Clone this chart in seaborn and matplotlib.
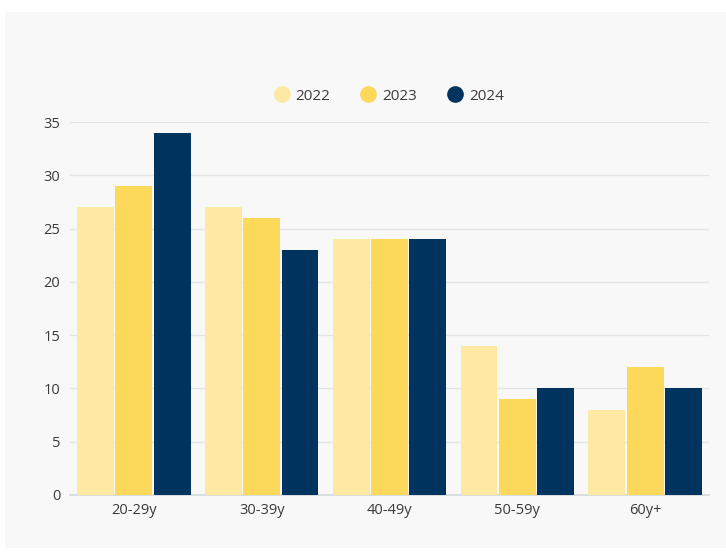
import matplotlib
matplotlib.use("Agg")
import matplotlib.pyplot as plt
from matplotlib.patches import Rectangle
from matplotlib.lines import Line2D
import seaborn as sns
import pandas as pd

age_groups = ["20-29y", "30-39y", "40-49y", "50-59y", "60y+"]
years = ["2022", "2023", "2024"]
values_2022 = [27, 27, 24, 14, 8]
values_2023 = [29, 26, 24, 9, 12]
values_2024 = [34, 23, 24, 10, 10]
y_ticks = [0, 5, 10, 15, 20, 25, 30, 35]

colors = ["#fde9a2", "#fcd95b", "#00335d"]

df = pd.DataFrame({
    "age": age_groups * 3,
    "year": [y for y in years for _ in age_groups],
    "value": values_2022 + values_2023 + values_2024,
})

sns.set_theme(style="white")
plt.rcParams["font.family"] = ["Open Sans", "DejaVu Sans"]

W, H = 726, 552
fig = plt.figure(figsize=(W / 100, H / 100), dpi=100)
fig.patch.set_facecolor("white")

# light panel behind the chart
fig.patches.append(Rectangle((5 / W, 4 / H), (W - 5) / W, (540 - 4) / H,
                             transform=fig.transFigure, facecolor="#f8f8f8",
                             edgecolor="none", zorder=-5))

ax = fig.add_axes([70 / W, 1 - 495 / H, (709 - 70) / W, (495 - 122) / H])
ax.set_facecolor("none")
ax.set_zorder(1)

sns.barplot(data=df, x="age", y="value", hue="year", palette=colors,
            width=0.9, gap=0.04, saturation=1, ax=ax, legend=False,
            edgecolor="none", zorder=3)

ax.set_ylim(0, 35)
ax.set_xlim(-0.5, 4.5)
ax.set_yticks(y_ticks)
ax.set_xlabel("")
ax.set_ylabel("")
ax.set_axisbelow(True)
ax.grid(axis="y", color="#e2e4e6", linewidth=1)
for side in ["top", "right", "left"]:
    ax.spines[side].set_visible(False)
ax.spines["bottom"].set_color("#d4d8dc")
ax.spines["bottom"].set_linewidth(1.2)
ax.tick_params(axis="both", length=0, labelsize=10.5, colors="#3a3a3a")
ax.tick_params(axis="y", pad=7)
ax.tick_params(axis="x", pad=6)

handles = [Line2D([0], [0], marker="o", linestyle="none", markersize=11,
                  markerfacecolor=c, markeredgecolor=c) for c in colors]
fig.legend(handles, years, loc="center", bbox_to_anchor=(388 / W, 1 - 96 / H),
           ncol=3, frameon=False, fontsize=11, handletextpad=0.3,
           handlelength=1.2, columnspacing=1.9, labelcolor="#3a3a3a")

fig.savefig("out.png", dpi=100, facecolor="white")
